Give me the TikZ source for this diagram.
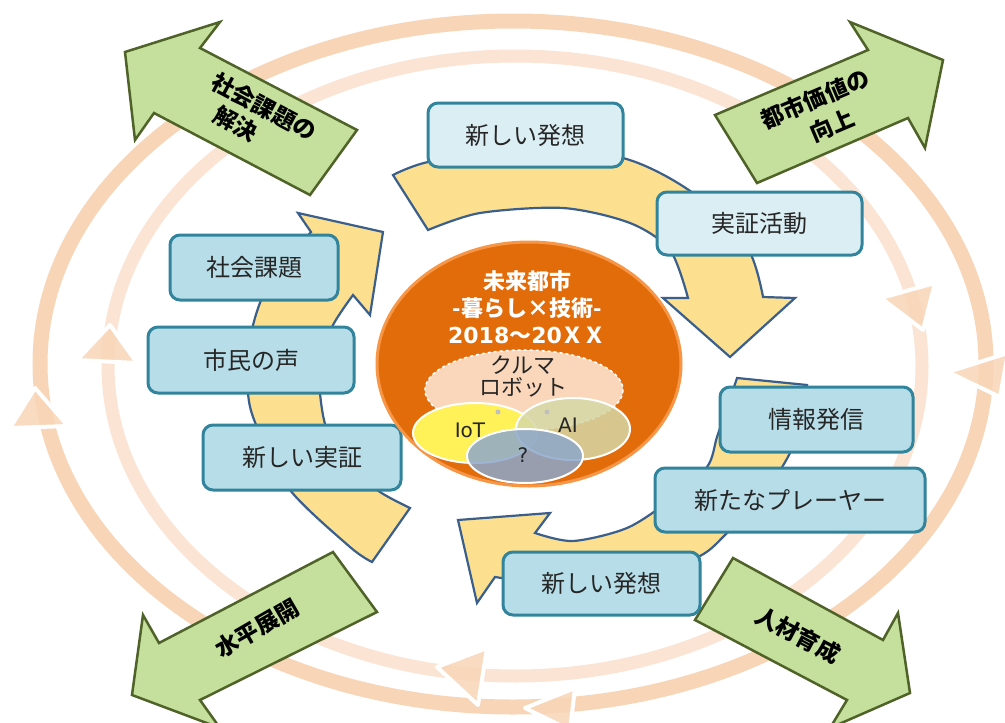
\documentclass[tikz,border=0pt]{standalone}
\usepackage{fontspec}
\setmainfont{DejaVu Sans}
\newfontfamily\jp{Noto Sans CJK JP}
\newfontfamily\dv{DejaVu Sans}
\definecolor{ringA}{HTML}{F8D5B7}
\definecolor{ringB}{HTML}{FBE4D3}
\definecolor{gfill}{HTML}{C5E09D}
\definecolor{gline}{HTML}{4F6228}
\definecolor{yfill}{HTML}{FCE08F}
\definecolor{yline}{HTML}{3A5F8C}
\definecolor{bline}{HTML}{31849B}
\definecolor{bfillA}{HTML}{B7DDE8}
\definecolor{bfillB}{HTML}{DAEEF3}
\definecolor{ofill}{HTML}{E36C0A}
\definecolor{oline}{HTML}{F79646}
\definecolor{peach}{HTML}{FAD6BA}
\definecolor{iotc}{HTML}{FFF157}
\definecolor{aic}{HTML}{D5D8A6}
\definecolor{qc}{HTML}{8CA7CB}
\definecolor{txt}{HTML}{262626}
\tikzset{
  box/.style={draw=bline, line width=3pt, rounded corners=10pt, fill=bfillA, text=txt,
    font=\jp\fontsize{24}{28}\selectfont, inner sep=0pt},
  boxlight/.style={box, fill=bfillB},
  garrow/.style={draw=gline, fill=gfill, line width=2.5pt, line join=miter},
  gtext/.style={font=\jp\bfseries\fontsize{23}{27}\selectfont, text=black, inner sep=0pt},
  yarrow/.style={draw=yline, fill=yfill, line width=2.2pt, line join=miter},
  ringtri/.style={fill=ringA, fill opacity=0.85, draw=white, line width=4pt, line join=round},
  blob/.style={draw=white, line width=2pt},
}
\begin{document}
\begin{tikzpicture}[x=1pt, y=-1pt]
\useasboundingbox (0,0) rectangle (1005,723);
\clip (0,0) rectangle (1005,723);
\fill[white] (0,0) rectangle (1005,723);
% rings
\draw[ringA, line width=15pt] (513,364) ellipse [x radius=473, y radius=343];
\draw[ringB, line width=13pt] (515,366) ellipse [x radius=407, y radius=310];
% ring arrowheads
\draw[ringtri] (35,388) -- (10,428) -- (68,426) -- cycle;
\draw[ringtri] (110,325) -- (77,360) -- (137,363) -- cycle;
\draw[ringtri] (881,298) -- (935,283) -- (923,330) -- cycle;
\draw[ringtri] (948,372) -- (1008,353) -- (1000,397) -- cycle;
\draw[ringtri] (437,667) -- (487,648) -- (478,705) -- cycle;
\draw[ringtri] (525,708) -- (575,688) -- (570,730) -- cycle;
% green arrows
\draw[garrow] (125,52) -- (220,22) -- (200,48) -- (357,130) -- (310,195) -- (154,113) -- (135,140) -- cycle;
\draw[garrow] (943,60) -- (850,22) -- (868,50) -- (715,115) -- (757,183) -- (908,118) -- (925,148) -- cycle;
\draw[garrow] (132,695) -- (143,615) -- (159,643) -- (333,552) -- (377,612) -- (200,700) -- (220,728) -- cycle;
\draw[garrow] (910,693) -- (898,613) -- (883,640) -- (733,558) -- (695,620) -- (847,700) -- (830,728) -- cycle;
\node[gtext, rotate=-28] (g1a) at (264,107) {社会課題の};
\node[gtext, rotate=-28] (g1b) at (236,124) {解決};
\node[gtext, rotate=23] (g2a) at (815,99) {都市価値の};
\node[gtext, rotate=23] (g2b) at (832,125) {向上};
\node[gtext, rotate=30] (g3) at (257,628) {水平展開};
\node[gtext, rotate=-28] (g4) at (798,635) {人材育成};
% yellow arrows
\draw[yarrow] (428,230) -- (393,175) -- plot[smooth] coordinates {(393,175) (428,162) (520,147) (623,158) (693,193) (747,247) (763,297)}
  -- (795,298) -- (730,357) -- (663,298) -- (688,298)
  -- plot[smooth] coordinates {(688,298) (670,250) (630,223) (563,208) (480,213) (428,230)} -- cycle;
\draw[yarrow] (410,508) -- (372,562) -- plot[smooth] coordinates {(372,562) (350,547) (290,490) (257,427) (248,393) (250,340) (262,298) (285,262) (311,232)}
  -- (298,213) -- (383,232) -- (370,315) -- (353,295)
  -- plot[smooth] coordinates {(353,295) (332,327) (321,365) (320,393) (327,430) (350,467) (380,492) (410,508)} -- cycle;
\draw[yarrow] (737,378) -- (807,385) -- plot[smooth] coordinates {(807,385) (800,420) (790,453) (762,497) (727,533) (700,556) (640,578) (565,585) (495,577)}
  -- (477,603) -- (458,520) -- (550,513) -- (535,533)
  -- plot[smooth] coordinates {(535,533) (573,541) (627,528) (670,500) (707,467) (717,437) (728,405) (737,378)} -- cycle;
% boxes
\node[boxlight, minimum width=195pt, minimum height=64pt] (b1) at (525.5,135) {新しい発想};
\node[boxlight, minimum width=205pt, minimum height=63pt] (b2) at (759.5,223.5) {実証活動};
\node[box, minimum width=168pt, minimum height=65pt] (b3) at (254,267.5) {社会課題};
\node[box, minimum width=206pt, minimum height=66pt] (b4) at (251,360) {市民の声};
\node[box, minimum width=198pt, minimum height=65pt] (b5) at (302,457.5) {新しい実証};
\node[box, minimum width=193pt, minimum height=65pt] (b6) at (816.5,419.5) {情報発信};
\node[box, minimum width=270pt, minimum height=64pt] (b7) at (790,500) {新たなプレーヤー};
\node[box, minimum width=197pt, minimum height=63pt] (b8) at (601.5,583.5) {新しい発想};
% center
\draw[fill=ofill, draw=oline, line width=3pt] (529,364) ellipse [x radius=152, y radius=122];
\node[font=\jp\bfseries\fontsize{22}{27}\selectfont, text=white, align=center] (title) at (527,307)
  {未来都市\\-暮らし×技術-\\{\dv\bfseries 2018}～{\dv\bfseries 20}ＸＸ};
\draw[fill=peach, draw=white, dashed, line width=1.5pt] (524,390) ellipse [x radius=99, y radius=40];
\node[font=\jp\fontsize{22}{22}\selectfont, text=txt, align=center] (tech) at (523,376) {クルマ\\ロボット};
\fill[iotc] (475,433) ellipse [x radius=62, y radius=30];
\draw[blob] (475,433) ellipse [x radius=62, y radius=30];
\fill[aic, fill opacity=0.85] (573,429) ellipse [x radius=57, y radius=31];
\draw[blob] (573,429) ellipse [x radius=57, y radius=31];
\fill[qc, fill opacity=0.85] (525,456) ellipse [x radius=58, y radius=27];
\draw[blob] (525,456) ellipse [x radius=58, y radius=27];
\fill[gray!50] (498,412) circle (2.5pt);
\fill[gray!50] (547,412) circle (2.5pt);
\node[font=\dv\fontsize{20}{20}\selectfont, text=txt] (iot) at (470,430) {IoT};
\node[font=\dv\fontsize{20}{20}\selectfont, text=txt] (ai) at (568,425) {AI};
\node[font=\dv\fontsize{20}{20}\selectfont, text=txt] (q) at (523,455) {?};
\end{tikzpicture}
\end{document}
